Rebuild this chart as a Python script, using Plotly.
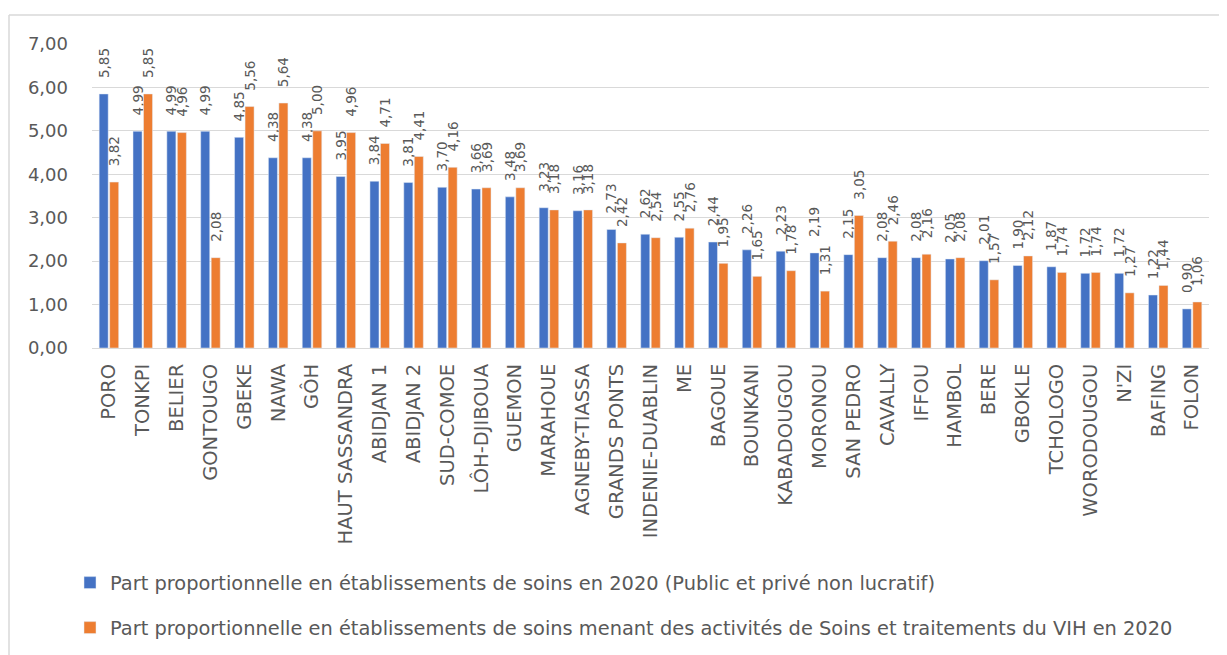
import plotly.graph_objects as go

regions = ["PORO", "TONKPI", "BELIER", "GONTOUGO", "GBEKE", "NAWA", "GÔH",
           "HAUT SASSANDRA", "ABIDJAN 1", "ABIDJAN 2", "SUD-COMOE", "LÔH-DJIBOUA",
           "GUEMON", "MARAHOUE", "AGNEBY-TIASSA", "GRANDS PONTS", "INDENIE-DUABLIN",
           "ME", "BAGOUE", "BOUNKANI", "KABADOUGOU", "MORONOU", "SAN PEDRO",
           "CAVALLY", "IFFOU", "HAMBOL", "BERE", "GBOKLE", "TCHOLOGO",
           "WORODOUGOU", "N'ZI", "BAFING", "FOLON"]

part_etab = [5.85, 4.99, 4.99, 4.99, 4.85, 4.38, 4.38, 3.95, 3.84, 3.81, 3.70, 3.66,
             3.48, 3.23, 3.16, 2.73, 2.62, 2.55, 2.44, 2.26, 2.23, 2.19, 2.15,
             2.08, 2.08, 2.05, 2.01, 1.90, 1.87, 1.72, 1.72, 1.22, 0.90]

part_vih = [3.82, 5.85, 4.96, 2.08, 5.56, 5.64, 5.00, 4.96, 4.71, 4.41, 4.16, 3.69,
            3.69, 3.18, 3.18, 2.42, 2.54, 2.76, 1.95, 1.65, 1.78, 1.31, 3.05,
            2.46, 2.16, 2.08, 1.57, 2.12, 1.74, 1.74, 1.27, 1.44, 1.06]

name_etab = "Part proportionnelle en établissements de soins en 2020 (Public et privé non lucratif)"
name_vih = "Part proportionnelle en établissements de soins menant des activités de Soins et traitements du VIH en 2020"

y_ticks = [0, 1, 2, 3, 4, 5, 6, 7]

grey = "#595959"
label_font = dict(family="DejaVu Sans", size=13.5, color=grey)
# non-breaking spaces lift the rotated labels a little above the bars
label_template = "\u00a0\u00a0\u00a0%{y:.2f}"

fig = go.Figure()
fig.add_trace(go.Bar(
    x=regions, y=part_etab, name=name_etab,
    marker=dict(color="#4472C4"),
    texttemplate=label_template, textposition="outside", textangle=-90,
    textfont=label_font, constraintext="none", cliponaxis=False,
    legend="legend",
))
fig.add_trace(go.Bar(
    x=regions, y=part_vih, name=name_vih,
    marker=dict(color="#ED7D31"),
    texttemplate=label_template, textposition="outside", textangle=-90,
    textfont=label_font, constraintext="none", cliponaxis=False,
    legend="legend2",
))

# page offset from the default body margin
OFF = 8
W, H = 1227 - OFF, 655 - OFF
# plot area in page pixels: x 92..1209, y 44..348
L, R, T, B = 92 - OFF, 1209 - OFF, 44 - OFF, 348 - OFF
pw, ph = R - L, B - T

legend_font = dict(family="DejaVu Sans", size=19.4, color=grey)
legend_x = (70 - OFF - L) / pw

fig.update_layout(
    width=W, height=H,
    margin=dict(l=L, r=W - R, t=T, b=H - B, pad=0, autoexpand=False),
    autosize=False,
    paper_bgcolor="white", plot_bgcolor="white",
    separators=", ",
    barmode="group", bargap=0.38, bargroupgap=0.14,
    font=dict(family="DejaVu Sans", color=grey),
    xaxis=dict(
        tickangle=-90, tickfont=dict(family="DejaVu Sans", size=19.5, color=grey),
        showline=True, linecolor="#D9D9D9", linewidth=1,
        showgrid=False, ticks="", ticklabelstandoff=7,
        fixedrange=True,
    ),
    yaxis=dict(
        range=[0, 7], tickvals=y_ticks, tickformat=".2f",
        tickfont=dict(family="DejaVu Sans", size=18, color=grey),
        showgrid=True, gridcolor="#D9D9D9", gridwidth=1,
        zeroline=False, showline=False, ticks="", ticklabelstandoff=23,
        fixedrange=True,
    ),
    legend=dict(
        x=legend_x, xref="paper", xanchor="left",
        y=1 - (583 - OFF) / H, yref="container", yanchor="middle",
        font=legend_font, bgcolor="rgba(0,0,0,0)", itemwidth=30,
    ),
    legend2=dict(
        x=legend_x, xref="paper", xanchor="left",
        y=1 - (628 - OFF) / H, yref="container", yanchor="middle",
        font=legend_font, bgcolor="rgba(0,0,0,0)", itemwidth=30,
    ),
    showlegend=True,
    shapes=[
        dict(type="line", xref="paper", yref="paper",
             x0=(9 - OFF - L) / pw, x1=(9 - OFF - L) / pw,
             y0=(B - (15 - OFF)) / ph, y1=(B - 700) / ph,
             line=dict(color="#D9D9D9", width=1.5)),
        dict(type="line", xref="paper", yref="paper",
             x0=(9 - OFF - L) / pw, x1=(1226 - OFF - L) / pw,
             y0=(B - (15 - OFF)) / ph, y1=(B - (15 - OFF)) / ph,
             line=dict(color="#D9D9D9", width=1.5)),
    ],
)

fig.write_html("out.html")
